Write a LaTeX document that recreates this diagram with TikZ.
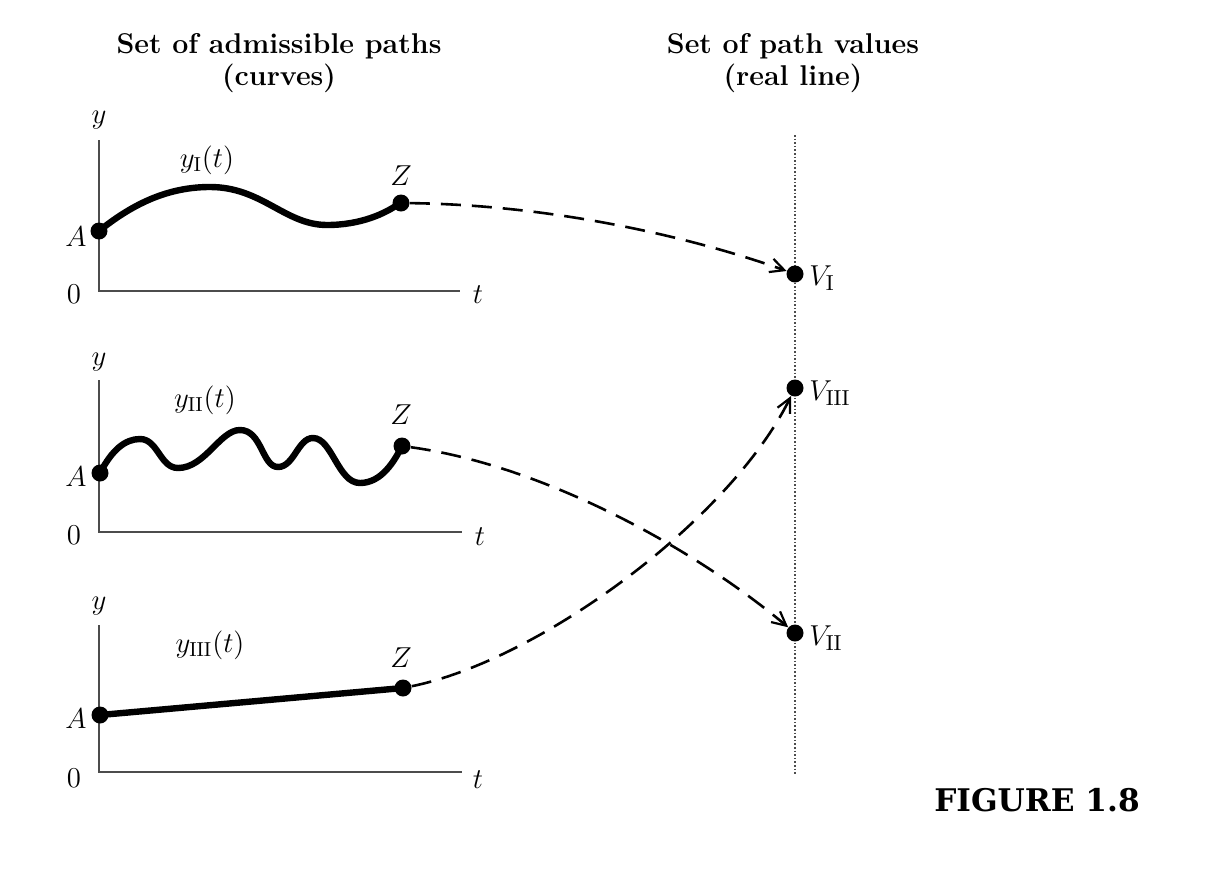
\documentclass[tikz,border=0pt]{standalone}
\usepackage{fontspec}
\usetikzlibrary{arrows.meta}
\newfontfamily\figfont{DejaVu Serif}
\tikzset{
  axisline/.style={line width=0.8pt, black!70},
  pathcurve/.style={line width=3.2pt, line cap=round},
  dotpt/.style={circle, fill=black, inner sep=0pt, minimum size=8.5pt},
  maplink/.style={line width=1.3pt, dash pattern=on 10pt off 5.5pt, -{Straight Barb[length=7pt,width=7pt,line width=1.1pt]}},
  lbl/.style={font=\fontsize{14.5}{16}\selectfont, inner sep=0pt},
  vlbl/.style={font=\fontsize{15.5}{17}\selectfont, inner sep=0pt, anchor=west},
  heading/.style={font=\fontsize{14.3}{16}\selectfont\bfseries, align=center, inner sep=0pt}
}
\begin{document}
\begin{tikzpicture}[x=0.5pt, y=-0.5pt]
\useasboundingbox (0,0) rectangle (1212,874);
% headings
\node[heading] (h1) at (279,63) {Set of admissible paths\\(curves)};
\node[heading] (h2) at (793,63) {Set of path values\\(real line)};
% real line
\coordinate (rtop) at (795,135);
\coordinate (rbot) at (795,775);
\draw[line width=0.8pt, black!70, densely dotted] (rtop) -- (rbot);
\node[dotpt] (v1) at (795,274) {};
\node[dotpt] (v3) at (795,388) {};
\node[dotpt] (v2) at (795,633) {};
\node[vlbl] (lv1) at (809,278) {$V_{\mathrm{I}}$};
\node[vlbl] (lv3) at (809,393) {$V_{\mathrm{III}}$};
\node[vlbl] (lv2) at (809,638) {$V_{\mathrm{II}}$};

% ---- panel 1
\coordinate (o1) at (99,291);
\coordinate (yt1) at (99,140);
\coordinate (xt1) at (460,291);
\draw[axisline] (yt1) -- (o1) -- (xt1);
\node[lbl] (ly1) at (99,120) {$y$};
\node[lbl] (l01) at (74,294) {$0$};
\node[lbl] (lt1) at (478,295) {$t$};
\node[lbl] (lA1) at (76,237) {$A$};
\node[lbl] (lZ1) at (401,176) {$Z$};
\node[lbl] (lc1) at (207,160) {$y_{\mathrm{I}}(t)$};
\draw[pathcurve] (99,231) .. controls (135,202) and (170,187) .. (210,187)
  .. controls (262,187) and (285,225) .. (327,225)
  .. controls (360,225) and (385,214) .. (400,203);
\node[dotpt] (a1) at (99,231) {};
\node[dotpt] (z1) at (401,203) {};

% ---- panel 2
\coordinate (o2) at (99,532);
\coordinate (yt2) at (99,380);
\coordinate (xt2) at (462,532);
\draw[axisline] (yt2) -- (o2) -- (xt2);
\node[lbl] (ly2) at (99,362) {$y$};
\node[lbl] (l02) at (74,535) {$0$};
\node[lbl] (lt2) at (480,537) {$t$};
\node[lbl] (lA2) at (76,477) {$A$};
\node[lbl] (lZ2) at (401,415) {$Z$};
\node[lbl] (lc2) at (205,400) {$y_{\mathrm{II}}(t)$};
\draw[pathcurve] (100,473) .. controls (112,450) and (125,439) .. (140,439)
  .. controls (158,439) and (160,468) .. (178,468)
  .. controls (205,468) and (220,430) .. (240,430)
  .. controls (262,430) and (262,467) .. (278,467)
  .. controls (294,467) and (298,438) .. (313,438)
  .. controls (332,438) and (338,483) .. (360,483)
  .. controls (382,483) and (395,460) .. (402,446);
\node[dotpt] (a2) at (100,473) {};
\node[dotpt] (z2) at (402,446) {};

% ---- panel 3
\coordinate (o3) at (99,772);
\coordinate (yt3) at (99,625);
\coordinate (xt3) at (462,772);
\draw[axisline] (yt3) -- (o3) -- (xt3);
\node[lbl] (ly3) at (99,606) {$y$};
\node[lbl] (l03) at (74,778) {$0$};
\node[lbl] (lt3) at (478,780) {$t$};
\node[lbl] (lA3) at (76,719) {$A$};
\node[lbl] (lZ3) at (401,658) {$Z$};
\node[lbl] (lc3) at (210,645) {$y_{\mathrm{III}}(t)$};
\node[dotpt] (a3) at (100,715) {};
\node[dotpt] (z3) at (403,688) {};
\draw[pathcurve] (a3.center) -- (z3.center);

% ---- mapping arrows
\draw[maplink] (z1) .. controls (560,205) and (700,240) .. (v1);
\draw[maplink] (z2) .. controls (540,465) and (690,545) .. (v2);
\draw[maplink] (z3) .. controls (540,660) and (730,520) .. (v3);

% figure label
\node[font=\figfont\fontsize{15.6}{18}\selectfont\bfseries, inner sep=0pt] (fig) at (1037,800) {FIGURE 1.8};
\end{tikzpicture}
\end{document}
